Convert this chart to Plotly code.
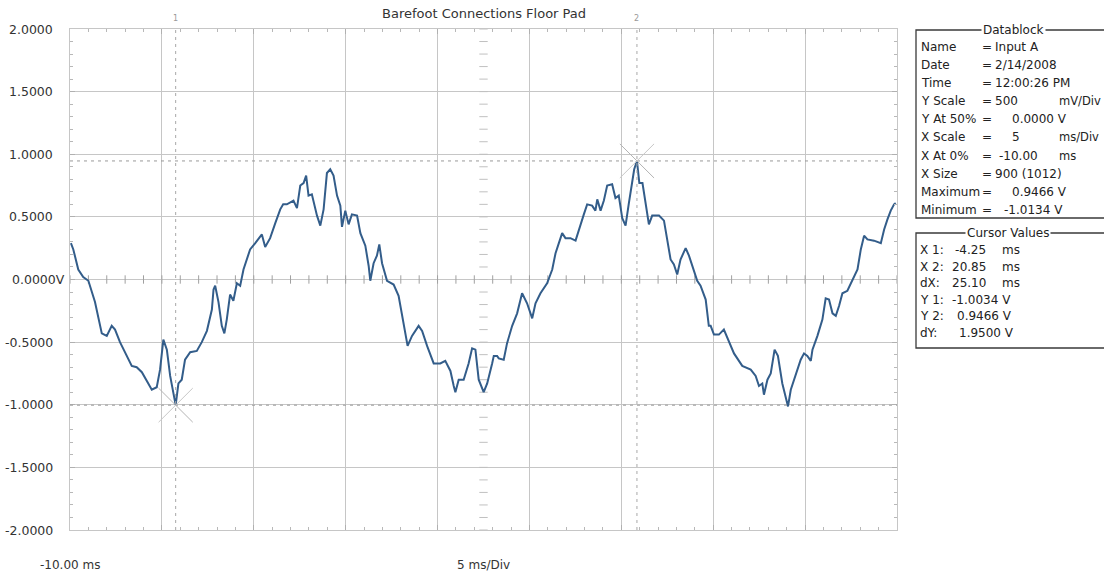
import numpy as np
import plotly.graph_objects as go

# ---------------- data ----------------
t_ms = [-9.95, -9.82, -9.55, -9.28, -9.00, -8.91, -8.64, -8.27, -8.00, -7.73, -7.55, -7.28,
        -6.91, -6.64, -6.37, -6.09, -5.74, -5.55, -5.28, -5.10, -4.92, -4.73, -4.55, -4.37,
        -4.25, -4.10, -3.92, -3.74, -3.46, -3.10, -2.83, -2.55, -2.28, -2.19, -2.10, -1.92,
        -1.74, -1.60, -1.47, -1.29, -1.11, -0.92, -0.74, -0.56, -0.20, 0.08, 0.44, 0.62,
        0.89, 1.17, 1.44, 1.60, 1.80, 2.16, 2.35, 2.53, 2.71, 2.85, 2.98, 3.16, 3.44, 3.62,
        3.80, 3.98, 4.16, 4.34, 4.53, 4.71, 4.80, 4.98, 5.16, 5.34, 5.62, 5.80, 6.07, 6.25,
        6.34, 6.52, 6.70, 6.83, 6.98, 7.25, 7.61, 7.88, 8.15, 8.37, 8.61, 8.97, 9.16, 9.43,
        9.79, 10.15, 10.42, 10.70, 10.88, 10.97, 11.15, 11.42, 11.69, 11.88, 12.06, 12.24,
        12.51, 12.70, 12.97, 13.06, 13.24, 13.33, 13.60, 13.78, 14.06, 14.33, 14.60, 14.87,
        15.15, 15.33, 15.60, 15.96, 16.24, 16.42, 16.60, 16.78, 16.96, 17.23, 17.51, 17.69,
        17.96, 18.14, 18.41, 18.59, 18.69, 18.87, 19.05, 19.23, 19.50, 19.68, 19.86, 20.05,
        20.23, 20.41, 20.59, 20.70, 20.85, 20.98, 21.15, 21.33, 21.50, 21.68, 22.05, 22.32,
        22.50, 22.68, 22.86, 23.04, 23.22, 23.50, 23.68, 23.95, 24.13, 24.31, 24.49, 24.59,
        24.76, 24.86, 25.04, 25.31, 25.58, 25.85, 26.13, 26.58, 27.04, 27.31, 27.49, 27.67,
        27.76, 27.95, 28.13, 28.34, 28.52, 28.76, 28.94, 29.07, 29.22, 29.49, 29.76, 29.94,
        30.12, 30.31, 30.40, 30.67, 30.94, 31.12, 31.30, 31.49, 31.67, 31.85, 32.03, 32.30,
        32.58, 32.85, 33.03, 33.21, 33.39, 33.75, 34.12, 34.30, 34.48, 34.66, 34.84, 34.93]
volts = [0.29, 0.24, 0.08, 0.02, -0.01, -0.05, -0.18, -0.43, -0.45, -0.37, -0.40, -0.50,
         -0.61, -0.69, -0.70, -0.74, -0.83, -0.88, -0.86, -0.72, -0.48, -0.56, -0.77, -0.93,
         -1.0034, -0.83, -0.80, -0.64, -0.58, -0.57, -0.50, -0.41, -0.24, -0.08, -0.05, -0.18,
         -0.37, -0.43, -0.32, -0.12, -0.17, -0.03, -0.05, 0.08, 0.24, 0.29, 0.36, 0.26,
         0.33, 0.45, 0.56, 0.60, 0.60, 0.63, 0.57, 0.75, 0.77, 0.83, 0.67, 0.68, 0.51, 0.43,
         0.56, 0.85, 0.88, 0.83, 0.67, 0.59, 0.42, 0.55, 0.44, 0.52, 0.51, 0.37, 0.27, 0.11,
         -0.01, 0.13, 0.19, 0.28, 0.13, -0.01, -0.04, -0.13, -0.37, -0.53, -0.45, -0.37, -0.41, -0.53,
         -0.67, -0.67, -0.65, -0.73, -0.85, -0.90, -0.80, -0.80, -0.67, -0.55, -0.56, -0.80,
         -0.90, -0.83, -0.67, -0.61, -0.61, -0.63, -0.64, -0.51, -0.37, -0.27, -0.11, -0.19,
         -0.31, -0.19, -0.11, -0.03, 0.08, 0.21, 0.29, 0.37, 0.33, 0.33, 0.31, 0.40,
         0.52, 0.60, 0.59, 0.55, 0.64, 0.55, 0.63, 0.75, 0.76, 0.65, 0.67, 0.49,
         0.43, 0.61, 0.77, 0.88, 0.9466, 0.77, 0.77, 0.61, 0.44, 0.51, 0.51, 0.47,
         0.32, 0.16, 0.12, 0.04, 0.16, 0.25, 0.19, 0.08, -0.01, -0.05, -0.13, -0.16,
         -0.37, -0.37, -0.44, -0.44, -0.40, -0.49, -0.59, -0.69, -0.72, -0.77, -0.85, -0.83,
         -0.92, -0.80, -0.75, -0.56, -0.61, -0.83, -0.93, -1.0134, -0.88, -0.75, -0.64, -0.59,
         -0.61, -0.65, -0.56, -0.45, -0.32, -0.15, -0.16, -0.27, -0.29, -0.21, -0.11, -0.09,
         -0.01, 0.08, 0.24, 0.35, 0.32, 0.31, 0.29, 0.40, 0.48, 0.55, 0.60, 0.61]

y_tick_vals = [2.0, 1.5, 1.0, 0.5, 0.0, -0.5, -1.0, -1.5, -2.0]
y_tick_text = ["2.0000", "1.5000", "1.0000", "0.5000", "0.0000V", "-0.5000", "-1.0000", "-1.5000", "-2.0000"]
x_start_label = "-10.00 ms"
x_scale_label = "5 ms/Div"
title_text = "Barefoot Connections Floor Pad"

cursor_x = [-4.25, 20.85]
cursor_y = [-1.0034, 0.9466]

datablock_labels = ["Name", "Date", "Time", "Y Scale", "Y At 50%", "X Scale", "X At 0%", "X Size", "Maximum", "Minimum"]
datablock_values = ["Input A", "2/14/2008", "12:00:26 PM", "500", "0.0000 V", "5", "-10.00", "900 (1012)", "0.9466 V", "-1.0134 V"]
datablock_units = ["", "", "", "mV/Div", "", "ms/Div", "ms", "", "", ""]

cursor_labels = ["X 1:", "X 2:", "dX:", "Y 1:", "Y 2:", "dY:"]
cursor_values = ["-4.25", "20.85", "25.10", "-1.0034 V", "0.9466 V", "1.9500 V"]
cursor_units = ["ms", "ms", "ms", "", "", ""]

# ---------------- layout helpers ----------------
W, H = 1104, 575
L, R, T, B = 70, 897, 29, 530
def px(x):
    return (x - L) / (R - L)
def py(y):
    return (B - y) / (B - T)

FONT = "DejaVu Sans"
TXT = "#333333"
GRID = "#c6c6c6"

fig = go.Figure()

# centre-axis minor ticks
tx = np.arange(-10, 35.01, 1.0)
fig.add_trace(go.Scatter(x=tx, y=np.zeros(len(tx)), mode="markers",
                         marker=dict(symbol="line-ns-open", size=6, color="#a0a0a0",
                                     line=dict(color="#a0a0a0", width=1)),
                         hoverinfo="skip", showlegend=False))
ty = np.arange(-2, 2.001, 0.1)
fig.add_trace(go.Scatter(x=np.full(len(ty), 12.5), y=ty, mode="markers",
                         marker=dict(symbol="line-ew-open", size=6, color="#c0c0c0",
                                     line=dict(color="#c0c0c0", width=1)),
                         hoverinfo="skip", showlegend=False))

# waveform
fig.add_trace(go.Scatter(x=t_ms, y=volts, mode="lines",
                         line=dict(color="#335d8a", width=2),
                         hoverinfo="skip", showlegend=False))

shapes = []
# cursor lines
for cx in cursor_x:
    shapes.append(dict(type="line", xref="x", yref="paper", x0=cx, x1=cx, y0=0, y1=1,
                       line=dict(color="#a8a8a8", width=1, dash="3px,4px"), layer="above"))
for cy in cursor_y:
    shapes.append(dict(type="line", xref="paper", yref="y", x0=0, x1=1, y0=cy, y1=cy,
                       line=dict(color="#9a9a9a", width=1, dash="3px,4px"), layer="above"))
# cursor crosses
dx, dy = 0.93, 0.136
for cx, cy in zip(cursor_x, cursor_y):
    shapes.append(dict(type="line", xref="x", yref="y", x0=cx - dx, x1=cx + dx, y0=cy + dy, y1=cy - dy,
                       line=dict(color="#b4b4b4", width=1)))
    shapes.append(dict(type="line", xref="x", yref="y", x0=cx - dx, x1=cx + dx, y0=cy - dy, y1=cy + dy,
                       line=dict(color="#c8c8c8", width=1)))

# datablock boxes
shapes.append(dict(type="rect", xref="paper", yref="paper", x0=px(916), x1=px(1115), y0=py(218), y1=py(30),
                   line=dict(color="#3a3a3a", width=1.3)))
shapes.append(dict(type="rect", xref="paper", yref="paper", x0=px(916), x1=px(1115), y0=py(348), y1=py(233),
                   line=dict(color="#3a3a3a", width=1.3)))

ann = []
# y labels
YF = dict(family=FONT, size=12.5, color=TXT)
for v, txt in zip(y_tick_vals, y_tick_text):
    if txt.endswith("V"):
        ann.append(dict(x=px(10), y=v, xref="paper", yref="y", text=txt, showarrow=False,
                        xanchor="left", yanchor="middle", font=YF))
    else:
        ann.append(dict(x=px(55), y=v, xref="paper", yref="y", text=txt, showarrow=False,
                        xanchor="right", yanchor="middle", font=YF))
# x labels
ann.append(dict(x=-10, y=py(565), xref="x", yref="paper", text=x_start_label, showarrow=False,
                xanchor="center", yanchor="middle", font=dict(family=FONT, size=12, color=TXT)))
ann.append(dict(x=12.5, y=py(565), xref="x", yref="paper", text=x_scale_label, showarrow=False,
                xanchor="center", yanchor="middle", font=dict(family=FONT, size=12, color=TXT)))
# title
ann.append(dict(x=0.5, y=py(13), xref="paper", yref="paper", text=title_text, showarrow=False,
                xanchor="center", yanchor="middle", font=dict(family=FONT, size=13, color=TXT)))
# cursor handles
for cx, lab in zip(cursor_x, ["1", "2"]):
    ann.append(dict(x=cx, y=py(19), xref="x", yref="paper", text=lab, showarrow=False,
                    xanchor="center", yanchor="middle", font=dict(family=FONT, size=8, color="#999999")))

# datablock text
BF = dict(family=FONT, size=12, color="#222222")
ann.append(dict(x=px(1013), y=py(30), xref="paper", yref="paper", text="Datablock", showarrow=False,
                xanchor="center", yanchor="middle", bgcolor="white", borderpad=1, font=BF))
val_x = [993, 993, 993, 993, 1010, 1010, 997, 993, 1010, 1002]
unit_x = [None, None, None, 1057, None, 1057, 1057, None, None, None]
for i, (lab, val, unit) in enumerate(zip(datablock_labels, datablock_values, datablock_units)):
    yy = 47 + i * 18.1
    ann.append(dict(x=px(919), y=py(yy), xref="paper", yref="paper", text=lab, showarrow=False,
                    xanchor="left", yanchor="middle", font=BF))
    ann.append(dict(x=px(980), y=py(yy), xref="paper", yref="paper", text="=", showarrow=False,
                    xanchor="left", yanchor="middle", font=BF))
    ann.append(dict(x=px(val_x[i]), y=py(yy), xref="paper", yref="paper", text=val, showarrow=False,
                    xanchor="left", yanchor="middle", font=BF))
    if unit:
        ann.append(dict(x=px(unit_x[i]), y=py(yy), xref="paper", yref="paper", text=unit, showarrow=False,
                        xanchor="left", yanchor="middle", font=dict(family=FONT, size=11.5, color="#222222")))

ann.append(dict(x=px(1008), y=py(233), xref="paper", yref="paper", text="Cursor Values", showarrow=False,
                xanchor="center", yanchor="middle", bgcolor="white", borderpad=1, font=BF))
cval_x = [953, 950, 950, 950, 955, 957]
for i, (lab, val, unit) in enumerate(zip(cursor_labels, cursor_values, cursor_units)):
    yy = 250 + i * 16.6
    ann.append(dict(x=px(918), y=py(yy), xref="paper", yref="paper", text=lab, showarrow=False,
                    xanchor="left", yanchor="middle", font=BF))
    ann.append(dict(x=px(cval_x[i]), y=py(yy), xref="paper", yref="paper", text=val, showarrow=False,
                    xanchor="left", yanchor="middle", font=BF))
    if unit:
        ann.append(dict(x=px(1000), y=py(yy), xref="paper", yref="paper", text=unit, showarrow=False,
                        xanchor="left", yanchor="middle", font=BF))

fig.update_layout(
    width=W, height=H,
    margin=dict(l=L, r=W - R, t=T, b=H - B, pad=0),
    paper_bgcolor="white", plot_bgcolor="white",
    showlegend=False, hovermode=False,
    shapes=shapes, annotations=ann,
    xaxis=dict(range=[-10, 35], dtick=5, tick0=-10, showgrid=True, gridcolor=GRID, gridwidth=1,
               zeroline=False, showticklabels=False, showline=True, linecolor=GRID, linewidth=1,
               mirror="ticks", ticks="inside", ticklen=5, tickcolor="#b0b0b0",
               minor=dict(dtick=1, tick0=-10, ticks="inside", ticklen=3, tickcolor="#b8b8b8", showgrid=False),
               fixedrange=True),
    yaxis=dict(range=[-2, 2], dtick=0.5, tick0=-2, showgrid=True, gridcolor=GRID, gridwidth=1,
               zeroline=False, showticklabels=False, showline=True, linecolor=GRID, linewidth=1,
               mirror="ticks", ticks="inside", ticklen=5, tickcolor="#b0b0b0",
               minor=dict(dtick=0.1, tick0=-2, ticks="inside", ticklen=3, tickcolor="#b8b8b8", showgrid=False),
               fixedrange=True),
)

fig.write_html("out.html", config=dict(displayModeBar=False),
               post_script="document.body.style.margin='0';document.body.style.overflow='hidden';")
